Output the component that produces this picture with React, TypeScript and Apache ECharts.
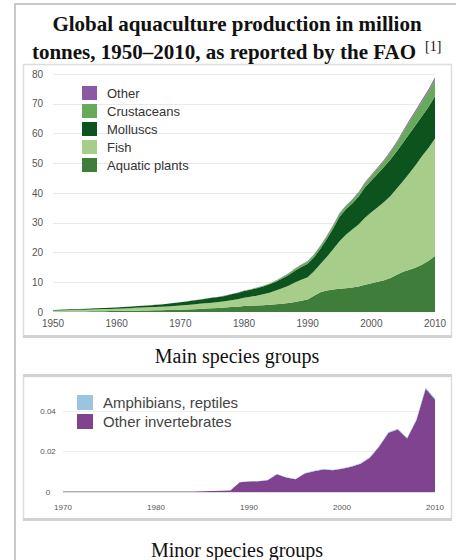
import React, { useEffect, useRef } from "react";
import * as echarts from "echarts";

// ---------- Main species groups (million tonnes), 1950–2010 ----------
const mainYears = [
  "1950", "1951", "1952", "1953", "1954", "1955", "1956", "1957", "1958", "1959",
  "1960", "1961", "1962", "1963", "1964", "1965", "1966", "1967", "1968", "1969",
  "1970", "1971", "1972", "1973", "1974", "1975", "1976", "1977", "1978", "1979",
  "1980", "1981", "1982", "1983", "1984", "1985", "1986", "1987", "1988", "1989",
  "1990", "1991", "1992", "1993", "1994", "1995", "1996", "1997", "1998", "1999",
  "2000", "2001", "2002", "2003", "2004", "2005", "2006", "2007", "2008", "2009",
  "2010",
];
const aquaticPlants = [
  0.10, 0.12, 0.14, 0.16, 0.18, 0.20, 0.22, 0.25, 0.28, 0.30,
  0.33, 0.36, 0.40, 0.44, 0.48, 0.52, 0.56, 0.60, 0.65, 0.70,
  0.75, 0.85, 0.95, 1.05, 1.15, 1.25, 1.35, 1.50, 1.65, 1.80,
  2.00, 2.10, 2.20, 2.30, 2.40, 2.60, 2.80, 3.00, 3.40, 3.80,
  4.20, 5.50, 6.60, 7.20, 7.60, 7.80, 8.00, 8.20, 8.60, 9.20,
  9.70, 10.2, 10.7, 11.4, 12.5, 13.5, 14.2, 15.0, 16.0, 17.2,
  18.8,
];
const fish = [
  0.40, 0.42, 0.45, 0.48, 0.50, 0.55, 0.60, 0.65, 0.70, 0.75,
  0.80, 0.85, 0.90, 0.95, 1.00, 1.05, 1.10, 1.15, 1.20, 1.30,
  1.40, 1.50, 1.60, 1.70, 1.80, 1.90, 2.00, 2.10, 2.30, 2.50,
  2.80, 3.00, 3.30, 3.70, 4.10, 4.60, 5.20, 5.80, 6.50, 7.00,
  7.50, 8.20, 9.50, 11.3, 13.5, 16.0, 18.0, 19.5, 20.8, 22.5,
  23.8, 25.0, 26.3, 27.6, 29.0, 30.5, 32.5, 34.5, 36.5, 38.0,
  39.5,
];
const molluscs = [
  0.20, 0.22, 0.24, 0.26, 0.28, 0.30, 0.32, 0.34, 0.36, 0.38,
  0.40, 0.45, 0.50, 0.55, 0.60, 0.65, 0.70, 0.80, 0.90, 1.00,
  1.10, 1.20, 1.30, 1.40, 1.50, 1.60, 1.70, 1.80, 2.00, 2.10,
  2.30, 2.40, 2.50, 2.60, 2.80, 3.00, 3.30, 3.60, 4.00, 4.30,
  4.50, 4.70, 5.20, 6.00, 7.00, 8.20, 8.50, 8.80, 9.40, 10.2,
  10.7, 11.3, 11.8, 12.3, 12.5, 13.0, 13.3, 13.4, 13.5, 13.8,
  14.2,
];
const crustaceans = [
  0.01, 0.01, 0.01, 0.01, 0.01, 0.01, 0.01, 0.01, 0.01, 0.01,
  0.01, 0.01, 0.02, 0.02, 0.02, 0.02, 0.03, 0.03, 0.03, 0.04,
  0.04, 0.05, 0.05, 0.06, 0.06, 0.07, 0.08, 0.09, 0.10, 0.11,
  0.12, 0.14, 0.16, 0.20, 0.25, 0.30, 0.40, 0.50, 0.65, 0.75,
  0.80, 0.90, 0.90, 0.95, 1.00, 1.10, 1.10, 1.20, 1.30, 1.40,
  1.60, 1.80, 2.00, 2.40, 2.90, 3.60, 4.10, 4.50, 4.90, 5.30,
  5.70,
];
const otherMain = [
  0.00, 0.00, 0.00, 0.00, 0.00, 0.00, 0.00, 0.00, 0.00, 0.00,
  0.00, 0.00, 0.00, 0.00, 0.00, 0.01, 0.01, 0.01, 0.01, 0.01,
  0.01, 0.01, 0.01, 0.02, 0.02, 0.02, 0.02, 0.03, 0.03, 0.03,
  0.04, 0.04, 0.05, 0.05, 0.06, 0.07, 0.08, 0.09, 0.10, 0.10,
  0.11, 0.12, 0.13, 0.15, 0.17, 0.20, 0.22, 0.24, 0.26, 0.28,
  0.30, 0.32, 0.35, 0.38, 0.42, 0.45, 0.50, 0.55, 0.60, 0.65,
  0.70,
];
const mainYTicks = [0, 80, 10]; // min, max, interval

// ---------- Minor species groups (million tonnes), 1970–2010 ----------
const minorYears = [
  "1970", "1971", "1972", "1973", "1974", "1975", "1976", "1977", "1978", "1979",
  "1980", "1981", "1982", "1983", "1984", "1985", "1986", "1987", "1988", "1989",
  "1990", "1991", "1992", "1993", "1994", "1995", "1996", "1997", "1998", "1999",
  "2000", "2001", "2002", "2003", "2004", "2005", "2006", "2007", "2008", "2009",
  "2010",
];
const otherInvertebrates = [
  0.0002, 0.0002, 0.0002, 0.0002, 0.0002, 0.0003, 0.0003, 0.0003, 0.0003, 0.0003,
  0.0003, 0.0003, 0.0003, 0.0003, 0.0003, 0.0004, 0.0005, 0.0006, 0.0008, 0.0048,
  0.0052, 0.0053, 0.0058, 0.0088, 0.0072, 0.0063, 0.0092, 0.0103, 0.0112, 0.0108,
  0.0115, 0.0125, 0.0140, 0.0170, 0.0225, 0.0293, 0.0310, 0.0265, 0.0355, 0.0512,
  0.0458,
];
const amphibiansReptiles = [
  0, 0, 0, 0, 0, 0, 0, 0, 0, 0,
  0, 0, 0, 0, 0, 0, 0, 0, 0, 0.0001,
  0.0001, 0.0001, 0.0001, 0.0001, 0.0001, 0.0001, 0.0002, 0.0002, 0.0002, 0.0002,
  0.0002, 0.0002, 0.0003, 0.0003, 0.0003, 0.0004, 0.0004, 0.0004, 0.0005, 0.0006,
  0.0005,
];
const minorYTicks = [0, 0.055, 0.02];

const mainNames = ["Other", "Crustaceans", "Molluscs", "Fish", "Aquatic plants"];
const minorNames = ["Amphibians, reptiles", "Other invertebrates"];

const COLORS: Record<string, string> = {
  "Aquatic plants": "#3e7d3a",
  Fish: "#a7cd8b",
  Molluscs: "#0c531d",
  Crustaceans: "#68a95c",
  Other: "#8c57a4",
  "Other invertebrates": "#80438f",
  "Amphibians, reptiles": "#9cc3e0",
};

const SANS = "'Liberation Sans', Arial, Helvetica, sans-serif";
const SERIF = "'Liberation Serif', 'Times New Roman', serif";

function area(name: string, ys: number[], idx: number, stack: string) {
  return {
    name,
    type: "line",
    stack,
    xAxisIndex: idx,
    yAxisIndex: idx,
    data: ys,
    symbol: "none",
    showSymbol: false,
    lineStyle: { width: 0 },
    itemStyle: { color: COLORS[name] },
    areaStyle: { color: COLORS[name], opacity: 1 },
  };
}

export default function App() {
  const ref = useRef<HTMLDivElement>(null);

  useEffect(() => {
    if (!ref.current) return;
    const chart = echarts.init(ref.current, null, { renderer: "svg" });

    const txt = (text: string, x: number, y: number, font: string, align = "center") => ({
      type: "text",
      x,
      y,
      silent: true,
      style: {
        text,
        font,
        fill: "#111",
        align,
        verticalAlign: "middle",
        textAlign: align,
        textVerticalAlign: "middle",
      },
    });

    const catAxis = (idx: number, data: string[], fontSize: number, margin: number, line: boolean) => ({
      type: "category",
      gridIndex: idx,
      data,
      boundaryGap: false,
      axisLine: { show: line, lineStyle: { color: "#dcdcdc", width: 1 } },
      axisTick: { show: false },
      splitLine: { show: false },
      axisLabel: { interval: 9, fontFamily: SANS, fontSize, color: "#555", margin },
    });

    chart.setOption({
      animation: false,
      backgroundColor: "#ffffff",
      graphic: [
        // outer frame
        { type: "rect", shape: { x: 15, y: 4, width: 470, height: 580 }, style: { fill: "none", stroke: "#c9c9c9", lineWidth: 2 }, z: -10 },
        // chart frames
        { type: "rect", shape: { x: 23.5, y: 64.5, width: 428, height: 272 }, style: { fill: "none", stroke: "#dddddd", lineWidth: 1.5 }, z: -10 },
        { type: "rect", shape: { x: 23, y: 335, width: 429, height: 3 }, style: { fill: "#d2d2d2" }, z: -10 },
        { type: "rect", shape: { x: 23.5, y: 376.5, width: 428, height: 143 }, style: { fill: "none", stroke: "#dddddd", lineWidth: 1.5 }, z: -10 },
        { type: "rect", shape: { x: 23, y: 374, width: 429, height: 3 }, style: { fill: "#d2d2d2" }, z: -10 },
        { type: "rect", shape: { x: 23, y: 518, width: 429, height: 3 }, style: { fill: "#d2d2d2" }, z: -10 },
        // title
        txt("Global aquaculture production in million", 237, 24, `bold 21px ${SERIF}`),
        txt("tonnes, 1950–2010, as reported by the FAO", 224, 52, `bold 21px ${SERIF}`),
        txt("[1]", 425, 46, `14px ${SERIF}`, "left"),
        // captions
        txt("Main species groups", 237, 356, `20px ${SERIF}`),
        txt("Minor species groups", 237, 550, `20px ${SERIF}`),
      ],
      legend: [
        {
          data: mainNames,
          orient: "vertical",
          left: 82,
          top: 86,
          padding: 0,
          itemWidth: 15,
          itemHeight: 14,
          itemGap: 4,
          icon: "rect",
          selectedMode: false,
          textStyle: { fontFamily: SANS, fontSize: 13, color: "#333", padding: [0, 0, 0, 5] },
        },
        {
          data: minorNames,
          orient: "vertical",
          left: 77,
          top: 395,
          padding: 0,
          itemWidth: 16,
          itemHeight: 15,
          itemGap: 4,
          icon: "rect",
          selectedMode: false,
          textStyle: { fontFamily: SANS, fontSize: 15, color: "#444", padding: [0, 0, 0, 5] },
        },
      ],
      grid: [
        { left: 53, top: 74, width: 382, height: 238 },
        { left: 63, top: 381, width: 372, height: 111 },
      ],
      xAxis: [
        catAxis(0, mainYears, 10, 6, false),
        catAxis(1, minorYears, 8, 11, true),
      ],
      yAxis: [
        {
          type: "value",
          gridIndex: 0,
          min: mainYTicks[0],
          max: mainYTicks[1],
          interval: mainYTicks[2],
          axisLine: { show: false },
          axisTick: { show: false },
          splitLine: { show: true, showMinLine: false, lineStyle: { color: "#e9e9e9", width: 1 } },
          axisLabel: { fontFamily: SANS, fontSize: 10, color: "#555", margin: 10 },
        },
        {
          type: "value",
          gridIndex: 1,
          min: minorYTicks[0],
          max: minorYTicks[1],
          interval: minorYTicks[2],
          axisLine: { show: false },
          axisTick: { show: false },
          splitLine: { show: true, showMinLine: false, showMaxLine: false, lineStyle: { color: "#eeeeee", width: 1 } },
          axisLabel: {
            showMaxLabel: false,
            fontFamily: SANS,
            fontSize: 8,
            color: "#555",
            margin: 15,
            align: "center",
            formatter: (v: number) => (v === 0 ? "0" : String(Math.round(v * 100) / 100)),
          },
        },
      ],
      series: [
        area("Aquatic plants", aquaticPlants, 0, "main"),
        area("Fish", fish, 0, "main"),
        area("Molluscs", molluscs, 0, "main"),
        area("Crustaceans", crustaceans, 0, "main"),
        area("Other", otherMain, 0, "main"),
        area("Other invertebrates", otherInvertebrates, 1, "minor"),
        area("Amphibians, reptiles", amphibiansReptiles, 1, "minor"),
      ],
    });

    return () => chart.dispose();
  }, []);

  return (
    <div
      ref={ref}
      style={{ position: "absolute", left: 0, top: 0, width: 456, height: 560, background: "#fff" }}
    />
  );
}
